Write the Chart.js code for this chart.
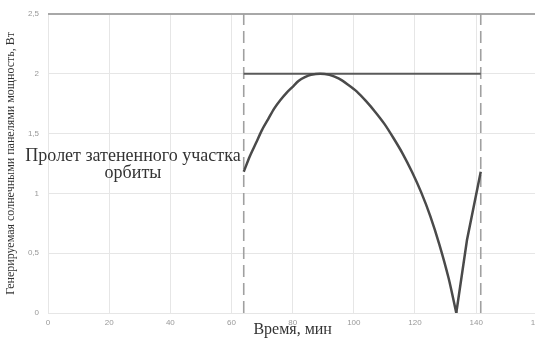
<!DOCTYPE html>
<html>
<head>
<meta charset="utf-8">
<script src="https://cdn.jsdelivr.net/npm/chart.js@4"></script>
<style>
  html, body { margin: 0; padding: 0; background: #fff; overflow: hidden; }
  #wrap { width: 549px; height: 343px; }
</style>
</head>
<body>
<div id="wrap"><canvas id="chartPower"></canvas></div>
<script>
// Кривая генерируемой мощности (мин, Вт)
const curveTime  = [64, 66, 68, 70, 72, 74, 76, 78, 80, 82, 84, 86, 89, 92, 95, 98, 101, 104, 107, 110, 113, 116, 119, 122, 125, 128, 131, 133.5];
const curvePower = [1.18, 1.31, 1.42, 1.53, 1.62, 1.71, 1.78, 1.84, 1.89, 1.94, 1.97, 1.99, 2.0, 1.99, 1.96, 1.91, 1.85, 1.77, 1.68, 1.58, 1.46, 1.33, 1.18, 1.01, 0.81, 0.57, 0.29, 0];
// Подъём после минимума
const tailTime  = [133.5, 137, 141.5];
const tailPower = [0, 0.61, 1.18];
// Границы участка и максимальная мощность
const shadowStart = 64;
const shadowEnd = 141.5;
const maxPower = 2.0;
const xMax = 160;
const yMax = 2.5;
const annotationLines = ['Пролет затененного участка', 'орбиты'];

const toPoints = (xs, ys) => xs.map((x, i) => ({ x: x, y: ys[i] }));

// Подпись внутри графика
const annotationPlugin = {
  id: 'annotationText',
  afterDatasetsDraw(chart) {
    const ctx = chart.ctx;
    ctx.save();
    ctx.font = '18px "Liberation Serif"';
    ctx.fillStyle = '#333';
    ctx.textAlign = 'center';
    ctx.textBaseline = 'middle';
    ctx.fillText(annotationLines[0], 133, 156);
    ctx.fillText(annotationLines[1], 133, 173);
    ctx.restore();
  }
};

new Chart(document.getElementById('chartPower').getContext('2d'), {
  type: 'scatter',
  data: {
    datasets: [
      {
        data: toPoints(curveTime, curvePower),
        showLine: true, borderColor: '#4a4a4a', borderWidth: 2.5,
        pointRadius: 0, tension: 0.3
      },
      {
        data: toPoints(tailTime, tailPower),
        showLine: true, borderColor: '#4a4a4a', borderWidth: 2.5,
        pointRadius: 0, tension: 0
      },
      {
        data: toPoints([shadowStart, shadowEnd], [maxPower, maxPower]),
        showLine: true, borderColor: '#5a5a5a', borderWidth: 2,
        pointRadius: 0
      },
      {
        data: toPoints([shadowStart, shadowStart], [0, yMax]),
        showLine: true, borderColor: '#a0a0a0', borderWidth: 1.6,
        borderDash: [12, 6], pointRadius: 0
      },
      {
        data: toPoints([shadowEnd, shadowEnd], [0, yMax]),
        showLine: true, borderColor: '#a0a0a0', borderWidth: 1.6,
        borderDash: [12, 6], pointRadius: 0
      }
    ]
  },
  options: {
    responsive: true,
    maintainAspectRatio: false,
    animation: false,
    layout: { padding: { top: 12, right: 0, left: 0, bottom: 0 } },
    plugins: {
      legend: { display: false },
      tooltip: { enabled: false }
    },
    scales: {
      x: {
        type: 'linear', min: 0, max: xMax,
        ticks: { stepSize: 20, color: '#999', font: { size: 8, family: 'Liberation Sans' }, padding: 5 },
        grid: { color: '#e6e6e6', drawTicks: false },
        border: { display: false },
        title: {
          display: true, text: 'Время, мин', color: '#333',
          font: { size: 16, family: 'Liberation Serif' }, padding: { top: 8 }
        },
        afterFit: (scale) => { scale.height = 30; }
      },
      y: {
        min: 0, max: yMax,
        ticks: {
          stepSize: 0.5, color: '#999', font: { size: 8, family: 'Liberation Sans' }, padding: 9,
          callback: (v) => String(v).replace('.', ',')
        },
        grid: {
          drawTicks: false,
          color: (c) => c.tick && c.tick.value === yMax ? '#a8a8a8' : '#e6e6e6',
          lineWidth: (c) => c.tick && c.tick.value === yMax ? 2 : 1
        },
        border: { display: false },
        title: {
          display: true, text: 'Генерируемая солнечными панелями мощность, Вт', color: '#333',
          font: { size: 12, family: 'Liberation Serif' }, padding: { top: 4, bottom: 0 }
        },
        afterFit: (scale) => { scale.width = 48; }
      }
    }
  },
  plugins: [annotationPlugin]
});
</script>
</body>
</html>
